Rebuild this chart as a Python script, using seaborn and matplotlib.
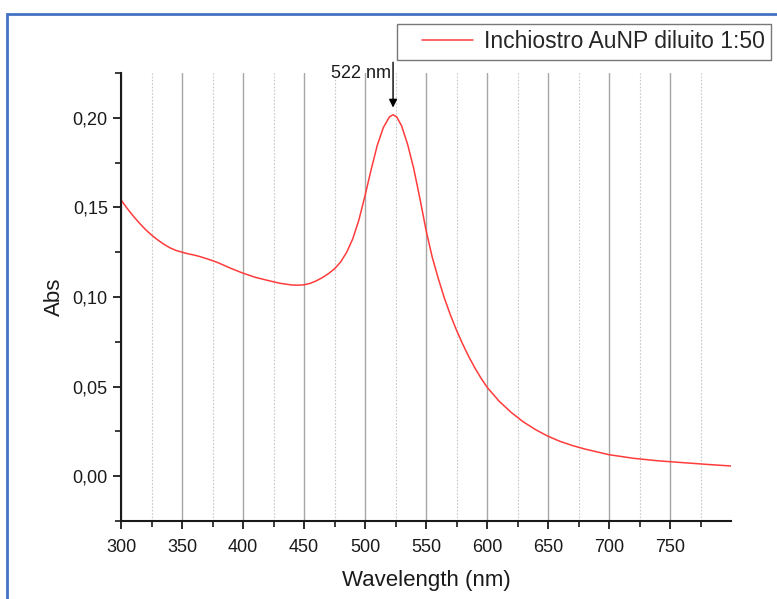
import matplotlib
matplotlib.use("Agg")
import matplotlib.pyplot as plt
import matplotlib.ticker as mticker
from matplotlib.patches import Rectangle
import seaborn as sns
import pandas as pd
import numpy as np

wavelength = [300, 305, 310, 315, 320, 325, 330, 335, 340, 345, 350, 355, 360, 365,
              370, 375, 380, 390, 400, 410, 420, 430, 440, 445, 450, 455, 460, 465,
              470, 475, 480, 485, 490, 495, 500, 505, 510, 515, 520, 523, 526, 530,
              535, 540, 545, 550, 555, 560, 565, 570, 575, 580, 585, 590, 595, 600,
              610, 620, 630, 640, 650, 660, 670, 680, 690, 700, 720, 740, 760, 780, 800]
absorbance = [0.1542, 0.1495, 0.1452, 0.1413, 0.1377, 0.1346, 0.1319, 0.1295, 0.1275,
              0.1260, 0.1250, 0.1241, 0.1234, 0.1225, 0.1214, 0.1203, 0.1190, 0.1160,
              0.1133, 0.1110, 0.1093, 0.1077, 0.1067, 0.1066, 0.1068, 0.1076, 0.1090,
              0.1108, 0.1130, 0.1157, 0.1195, 0.1250, 0.1325, 0.1430, 0.1565, 0.1710,
              0.1845, 0.1945, 0.2005, 0.2017, 0.2005, 0.1955, 0.1850, 0.1715, 0.1550,
              0.1374, 0.1225, 0.1105, 0.0995, 0.0900, 0.0815, 0.0738, 0.0668, 0.0605,
              0.0548, 0.0497, 0.0418, 0.0355, 0.0302, 0.0259, 0.0223, 0.0194, 0.0171,
              0.0152, 0.0136, 0.0120, 0.0100, 0.0086, 0.0076, 0.0066, 0.0057]
series_label = "Inchiostro AuNP diluito 1:50"
x_major_ticks = [300, 350, 400, 450, 500, 550, 600, 650, 700, 750]
x_minor_ticks = [325, 375, 425, 475, 525, 575, 625, 675, 725, 775]
y_major_ticks = [0.00, 0.05, 0.10, 0.15, 0.20]
y_minor_ticks = [-0.025, 0.025, 0.075, 0.125, 0.175, 0.225]
peak_wl = 522
peak_abs = 0.2017

sns.set_theme(style="white")
plt.rcParams['font.family'] = ['Liberation Sans', 'DejaVu Sans']

df = pd.DataFrame({"Wavelength (nm)": wavelength, "Abs": absorbance, "s": series_label})

fig = plt.figure(figsize=(7.77, 5.99), dpi=100)
ax = fig.add_axes([121/777, 1-521/599, (731-121)/777, (521-73)/599])

sns.lineplot(data=df, x="Wavelength (nm)", y="Abs", hue="s", palette=["#ff3b3b"],
             linewidth=1.1, ax=ax, legend=True)

ax.set_xlim(300, 800)
ax.set_ylim(-0.025, 0.225)
ax.xaxis.set_major_locator(mticker.FixedLocator(x_major_ticks))
ax.xaxis.set_minor_locator(mticker.FixedLocator(x_minor_ticks))
ax.yaxis.set_major_locator(mticker.FixedLocator(y_major_ticks))
ax.yaxis.set_minor_locator(mticker.FixedLocator(y_minor_ticks))
ax.yaxis.set_major_formatter(mticker.FuncFormatter(lambda v, p: f"{v:.2f}".replace('.', ',')))

ax.grid(False)
ax.grid(True, axis='x', which='major', color='#a6a6a6', linestyle='-', linewidth=1.0)
ax.grid(True, axis='x', which='minor', color='#c8c8c8', linestyle=(0, (1.5, 1.5)), linewidth=0.8)
ax.set_axisbelow(True)

for s in ['top', 'right']:
    ax.spines[s].set_visible(False)
for s in ['left', 'bottom']:
    ax.spines[s].set_color('#1a1a1a')
    ax.spines[s].set_linewidth(1.5)

ax.tick_params(axis='both', which='major', direction='out', length=6, width=1.3,
               color='#1a1a1a', labelsize=13, labelcolor='#1a1a1a', bottom=True, left=True)
ax.tick_params(axis='x', which='major', pad=7)
ax.tick_params(axis='both', which='minor', direction='out', length=4, width=1.2,
               color='#1a1a1a', bottom=True, left=True)

ax.set_xlabel("Wavelength (nm)", fontsize=16, color='#1a1a1a', labelpad=10)
ax.set_ylabel("Abs", fontsize=16, color='#1a1a1a', labelpad=5.5)

ax.annotate("", xy=(peak_wl + 1, peak_abs + 0.004), xytext=(peak_wl + 1, 0.231),
            arrowprops=dict(arrowstyle='-|>', color='black', lw=1.0, mutation_scale=12,
                            shrinkA=0, shrinkB=0),
            annotation_clip=False)
ax.text(peak_wl - 1, 0.2245, f"{peak_wl} nm", ha='right', va='center', fontsize=13,
        color='#1a1a1a', clip_on=False)

leg = ax.legend(loc='upper right', bbox_to_anchor=(771/777, 1-24/599),
                bbox_transform=fig.transFigure, borderaxespad=0, fontsize=16.5,
                frameon=True, fancybox=False, edgecolor='#555555', handlelength=3.03,
                borderpad=0.28, handletextpad=0.48)
leg.get_frame().set_linewidth(1.0)
for ln in leg.get_lines():
    xd = np.asarray(ln.get_xdata(), dtype=float)
    ln.set_xdata(np.linspace(xd[0] + 13.3, xd[-1], len(xd)))

fig.patches.append(Rectangle((7/777, -0.1), 1.2, 1.1 - 14/599, transform=fig.transFigure,
                             fill=False, edgecolor='#4472c4', linewidth=2, clip_on=False))

fig.savefig("out.png", dpi=100)
